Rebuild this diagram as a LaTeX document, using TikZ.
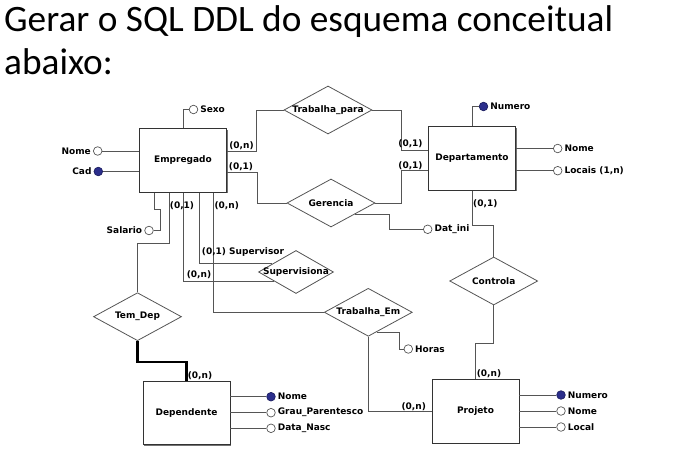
\documentclass[tikz,border=0pt]{standalone}
\usepackage{fontspec}
\setmainfont{DejaVu Sans}
\newfontfamily\titlefont{Carlito}
\usepackage{tikz}
\usetikzlibrary{shapes, shadows, positioning}
\definecolor{linegray}{HTML}{555555}
\definecolor{boxedge}{HTML}{333333}
\definecolor{keyblue}{HTML}{2B2E8C}

\begin{document}
\begin{tikzpicture}[
    x=1pt, y=-1pt,
    font=\bfseries\fontsize{9}{10}\selectfont,
    every label/.style={inner sep=2pt},
    entity/.style={
        draw=boxedge,
        line width=0.9pt,
        fill=white,
        minimum width=87pt,
        minimum height=63.5pt,
        drop shadow={shadow xshift=1pt, shadow yshift=-1pt, opacity=1, fill=black!55}
    },
    rel/.style={
        diamond,
        draw=linegray,
        line width=0.8pt,
        fill=white,
        inner sep=0pt,
        minimum width=88pt,
        minimum height=48pt
    },
    attr/.style={
        circle,
        draw=linegray,
        line width=0.7pt,
        fill=white,
        inner sep=0pt,
        minimum size=8.6pt
    },
    keyattr/.style={
        attr,
        fill=keyblue,
        draw=keyblue!70!black
    },
    conn/.style={
        draw=linegray,
        line width=0.8pt
    },
    card/.style={inner sep=0pt}
]
\useasboundingbox (0,0) rectangle (693,449);

% Title
\node[anchor=base west, inner sep=0pt, font=\normalfont\titlefont\fontsize{37.3}{44}\selectfont] (title) at (4,31.7) {Gerar o SQL DDL do esquema conceitual};
\node[anchor=base west, inner sep=0pt, font=\normalfont\titlefont\fontsize{37.3}{44}\selectfont] (title2) at (4,75) {abaixo:};

% Entities
\node[entity] (emp) at (183,160.5) {Empregado};
\node[entity] (dept) at (472,158.5) {Departamento};
\node[entity] (dep) at (186.5,413) {Dependente};
\node[entity] (proj) at (475.5,411.5) {Projeto};

% Relationships
\node[rel, label=center:Trabalha\_para] (trabpara) at (328,110) {};
\node[rel, label=center:Gerencia] (gerencia) at (331,203) {};
\node[rel, minimum width=75pt, minimum height=43pt, label=center:Supervisiona] (sup) at (296,272) {};
\node[rel, label=center:Trabalha\_Em] (trabem) at (368.3,312.3) {};
\node[rel, label=center:Tem\_Dep] (temdep) at (137.5,316.7) {};
\node[rel, label=center:Controla] (controla) at (493.7,281) {};

% Attributes
\node[attr, label=right:Sexo] (sexo) at (193.5,109.5) {};
\node[attr, label=left:Nome] (empnome) at (97.7,151) {};
\node[keyattr, label=left:Cad] (cad) at (98.3,171.5) {};
\node[attr, label=left:Salario] (salario) at (149,230.5) {};
\node[keyattr, label=right:Numero] (deptnum) at (483.5,106.5) {};
\node[attr, label=right:Nome] (deptnome) at (557.7,148.5) {};
\node[attr, label=right:{Locais (1,n)}] (locais) at (557.7,170.7) {};
\node[attr, label=right:Dat\_ini] (datini) at (427.7,229.3) {};
\node[attr, label=right:Horas] (horas) at (408.3,349) {};
\node[keyattr, label=right:Nome] (depnome) at (271,396.7) {};
\node[attr, label=right:Grau\_Parentesco] (grau) at (271,412.7) {};
\node[attr, label=right:Data\_Nasc] (datanasc) at (271,428.3) {};
\node[keyattr, label=right:Numero] (projnum) at (561,395) {};
\node[attr, label=right:Nome] (projnome) at (561,411) {};
\node[attr, label=right:Local] (local) at (561,427) {};

% Attribute connectors
\draw[conn] (sexo) -| (emp.north);
\draw[conn] (empnome) -- (empnome -| emp.west);
\draw[conn] (cad) -- (cad -| emp.west);
\draw[conn] (salario) -- (160.7,230.5) -- (160.7,209.3) -- (154,209.3) -- (154,0 |- emp.south);
\draw[conn] (deptnum) -| (dept.north);
\draw[conn] (deptnome) -- (deptnome -| dept.east);
\draw[conn] (locais) -- (locais -| dept.east);
\draw[conn] (gerencia.-25) -| (389.3,229.3) -- (datini);
\draw[conn] (trabem.-67) -| (399,349) -- (horas);
\draw[conn] (depnome) -- (depnome -| dep.east);
\draw[conn] (grau) -- (grau -| dep.east);
\draw[conn] (datanasc) -- (datanasc -| dep.east);
\draw[conn] (projnum) -- (projnum -| proj.east);
\draw[conn] (projnome) -- (projnome -| proj.east);
\draw[conn] (local) -- (local -| proj.east);

% Relationship connectors
\draw[conn] (emp.east |- 0,151) -- (256,151) |- (trabpara.west);
\draw[conn] (emp.east |- 0,172) -- (257,172) |- (gerencia.west);
\draw[conn] (trabpara.east) -- (401.7,110) |- (dept.west |- 0,150);
\draw[conn] (gerencia.east) -- (401.7,203) |- (dept.west |- 0,170.7);
\draw[conn] (dept.south) |- (controla.north |- 0,225) -- (controla.north);
\draw[conn] (controla.south) |- (proj.north |- 0,343.3) -- (proj.north);
\draw[conn] (trabem.south) |- (proj.west);
\draw[conn] (213.3,0 |- emp.south) |- (trabem.west);
\draw[conn] (199,0 |- emp.south) |- (sup.161);
\draw[conn] (183.3,0 |- emp.south) |- (sup.-158);
\draw[conn] (169,0 |- emp.south) |- (temdep.north |- 0,243.3) -- (temdep.north);
\draw[conn, draw=black, line width=2.2pt] (temdep.south) |- (dep.north |- 0,361.7) -- (dep.north);

% Cardinalities
\node[card] (c1) at (241.5,145.3) {(0,n)};
\node[card] (c2) at (241,167) {(0,1)};
\node[card] (c3) at (410.5,143.8) {(0,1)};
\node[card] (c4) at (410.5,165.5) {(0,1)};
\node[card] (c5) at (485.3,203.8) {(0,1)};
\node[card] (c6) at (182,205.3) {(0,1)};
\node[card] (c7) at (226.7,205.3) {(0,n)};
\node[card, anchor=west] (c8) at (201.7,252) {(0,1) Supervisor};
\node[card] (c9) at (199,274.7) {(0,n)};
\node[card] (c10) at (200,376.2) {(0,n)};
\node[card] (c11) at (489,373.8) {(0,n)};
\node[card] (c12) at (413.7,407.2) {(0,n)};

\end{tikzpicture}
\end{document}
